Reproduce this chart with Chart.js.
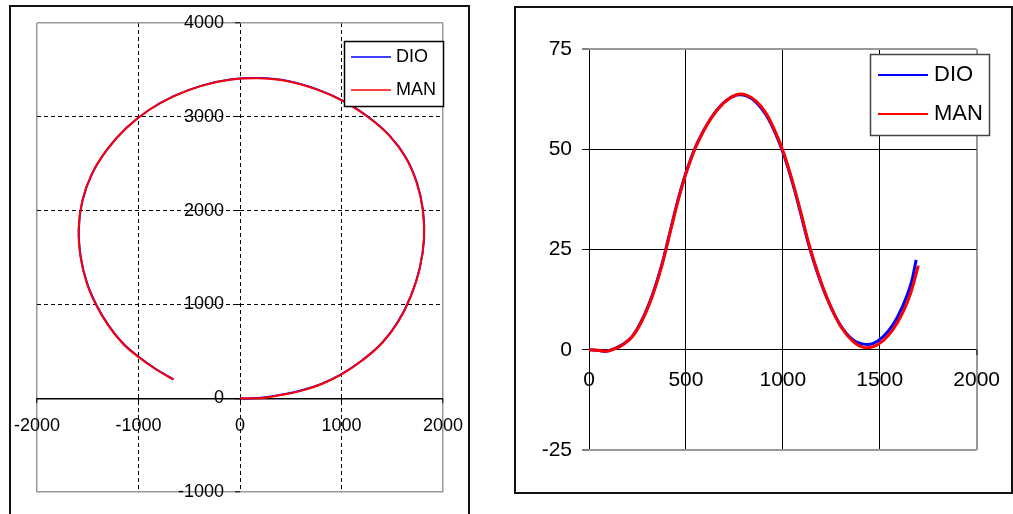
<!DOCTYPE html>
<html lang="en">
<head>
<meta charset="UTF-8">
<title>DIO / MAN</title>
<script src="https://cdn.jsdelivr.net/npm/chart.js"></script>
<style>
  body { margin: 0; background: #fff; width: 1013px; height: 514px; overflow: hidden; position: relative; }
  .frame { position: absolute; border: 2px solid #111; box-sizing: border-box; }
  canvas { position: absolute; top: 0; }
</style>
</head>
<body>
<div class="frame" style="left:9px;top:5px;width:461px;height:530px"></div>
<div class="frame" style="left:514px;top:6px;width:499px;height:488px"></div>
<canvas id="left" style="left:0" width="480" height="514"></canvas>
<canvas id="right" style="left:500px" width="513" height="514"></canvas>
<script>
// left chart: trajectory (x, y)
const leftManX = [0, 120, 230, 400, 600, 800, 1000, 1200, 1400, 1560, 1680, 1770, 1812, 1800, 1740, 1630, 1470, 1270, 1030, 760, 470, 180, -100, -380, -650, -900, -1120, -1310, -1460, -1555, -1590, -1570, -1510, -1420, -1300, -1160, -1000, -830, -657];
const leftManY = [0, 0, 5, 35, 80, 150, 255, 400, 590, 820, 1080, 1380, 1700, 2010, 2300, 2570, 2800, 2990, 3160, 3290, 3380, 3410, 3395, 3330, 3220, 3070, 2880, 2650, 2390, 2100, 1800, 1500, 1230, 1000, 780, 590, 440, 310, 200];
const leftDioX = [0, 120, 230, 400, 600, 800, 1000, 1200, 1400, 1560, 1680, 1770, 1814, 1802, 1742, 1632, 1472, 1272, 1032, 762, 472, 182, -98, -378, -648, -898, -1118, -1308, -1458, -1553, -1588, -1568, -1508, -1418, -1298, -1158, -998, -828, -655];
const leftDioY = [0, 0, 8, 38, 83, 153, 258, 403, 593, 823, 1083, 1383, 1703, 2013, 2303, 2573, 2803, 2993, 3163, 3293, 3383, 3413, 3398, 3333, 3223, 3073, 2883, 2653, 2393, 2103, 1803, 1503, 1233, 1003, 783, 593, 443, 313, 203];
const leftXTicks = ['-2000', '-1000', '0', '1000', '2000'];
const leftYTicks = ['-1000', '0', '1000', '2000', '3000', '4000'];

// right chart
const rightManX = [0, 55, 89, 131, 173, 224, 274, 324, 366, 387, 425, 467, 509, 560, 627, 694, 761, 812, 862, 913, 963, 1005, 1047, 1089, 1134, 1182, 1232, 1299, 1366, 1417, 1467, 1518, 1568, 1618, 1661, 1699];
const rightManY = [0, -0.2, -0.4, 0.2, 1.2, 3.3, 7.3, 13.0, 19.3, 23.0, 30.5, 38.5, 45.2, 51.5, 57.5, 61.5, 63.6, 63.5, 62.0, 59.0, 54.2, 49.0, 42.5, 35.0, 26.5, 19.0, 12.5, 5.8, 1.9, 0.6, 0.8, 2.3, 5.0, 9.2, 14.3, 21.0];
const rightDioX = [0, 55, 89, 131, 173, 224, 274, 324, 366, 387, 425, 467, 509, 560, 627, 694, 761, 812, 862, 913, 963, 1005, 1047, 1089, 1134, 1182, 1232, 1299, 1366, 1417, 1467, 1518, 1568, 1618, 1661, 1688];
const rightDioY = [0, -0.2, -0.4, 0.3, 1.3, 3.4, 7.5, 13.3, 19.6, 23.3, 30.8, 38.8, 45.4, 51.7, 57.6, 61.6, 63.5, 63.3, 61.7, 58.6, 53.8, 48.6, 42.1, 34.6, 26.1, 18.7, 12.4, 6.0, 2.3, 1.4, 1.6, 3.3, 6.2, 10.8, 16.4, 22.4];
const rightXTicks = ['0', '500', '1000', '1500', '2000'];
const rightYTicks = ['-25', '0', '25', '50', '75'];

const labels = ['DIO', 'MAN'];
const colors = ['#0000ff', '#ff0000'];

Chart.defaults.font.family = "'Liberation Sans', Arial, sans-serif";
Chart.defaults.color = '#000';

function pts(xs, ys) {
  return xs.map((x, i) => ({ x: x, y: ys[i] }));
}

// legend in a framed box inside the plot
const boxLegend = {
  id: 'boxLegend',
  afterDraw(chart, args, o) {
    const ctx = chart.ctx;
    ctx.save();
    ctx.fillStyle = '#fff';
    ctx.fillRect(o.x, o.y, o.w, o.h);
    ctx.strokeStyle = o.border;
    ctx.lineWidth = o.borderWidth;
    ctx.strokeRect(o.x + 0.5, o.y + 0.5, o.w, o.h);
    ctx.font = o.font;
    ctx.textBaseline = 'middle';
    chart.data.datasets.forEach((ds, i) => {
      const y = o.y + o.rowTop + i * o.rowGap;
      ctx.strokeStyle = ds.borderColor;
      ctx.lineWidth = o.lineWidth;
      ctx.beginPath();
      ctx.moveTo(o.x + o.lineX, y);
      ctx.lineTo(o.x + o.lineX + o.lineLen, y);
      ctx.stroke();
      ctx.fillStyle = '#000';
      ctx.fillText(ds.label, o.x + o.textX, y);
    });
    ctx.restore();
  }
};

// MAN drawn on top of DIO
function makeSets(dio, man, w) {
  return [
    { label: labels[0], data: dio, order: 1, borderColor: colors[0], borderWidth: w, showLine: true, pointRadius: 0, tension: 0.4, fill: false },
    { label: labels[1], data: man, order: 0, borderColor: colors[1], borderWidth: w, showLine: true, pointRadius: 0, tension: 0.4, fill: false }
  ];
}

new Chart(document.getElementById('left'), {
  type: 'scatter',
  data: { datasets: makeSets(pts(leftDioX, leftDioY), pts(leftManX, leftManY), 2) },
  plugins: [boxLegend],
  options: {
    responsive: false,
    animation: false,
    layout: { padding: { left: 37, right: 37, top: 23, bottom: 15 } },
    plugins: {
      legend: { display: false },
      tooltip: { enabled: false },
      boxLegend: { x: 344, y: 41, w: 99, h: 65, border: '#000', borderWidth: 1.5, font: "18px 'Liberation Sans', Arial, sans-serif", rowTop: 16, rowGap: 33, lineX: 7, lineLen: 40, lineWidth: 1.5, textX: 52 }
    },
    scales: {
      x: {
        type: 'linear', min: -2000, max: 2000, position: { y: 0 },
        ticks: { stepSize: 1000, autoSkip: false, maxRotation: 0, padding: 12, font: { size: 18 }, callback: (v, i) => leftXTicks[i] },
        grid: {
          color: c => (c.tick && Math.abs(c.tick.value) === 2000) ? '#999' : '#000',
          lineWidth: c => (c.tick && Math.abs(c.tick.value) === 2000) ? 1.5 : 1,
          tickLength: 5, tickColor: '#000', tickWidth: 1
        },
        border: { display: false, dash: c => (c.tick && Math.abs(c.tick.value) === 2000) ? [] : [4, 3] }
      },
      y: {
        // x range is symmetric, so the centre is x = 0
        type: 'linear', min: -1000, max: 4000, position: 'center',
        ticks: { stepSize: 1000, autoSkip: false, padding: 11, font: { size: 18 }, callback: (v, i) => leftYTicks[i] },
        grid: {
          color: c => (c.tick && (c.tick.value === 4000 || c.tick.value === -1000)) ? '#999' : '#000',
          lineWidth: c => (c.tick && c.tick.value !== 1000 && c.tick.value !== 2000 && c.tick.value !== 3000) ? 1.5 : 1,
          tickLength: 5, tickColor: '#000', tickWidth: 1
        },
        border: { display: false, dash: c => (c.tick && [4000, -1000, 0].includes(c.tick.value)) ? [] : [4, 3] }
      }
    }
  }
});

new Chart(document.getElementById('right'), {
  type: 'scatter',
  data: { datasets: makeSets(pts(rightDioX, rightDioY), pts(rightManX, rightManY), 3) },
  plugins: [boxLegend],
  options: {
    responsive: false,
    animation: false,
    layout: { padding: { left: 24, right: 27, top: 49, bottom: 64 } },
    plugins: {
      legend: { display: false },
      tooltip: { enabled: false },
      boxLegend: { x: 370, y: 54, w: 119, h: 81, border: '#444', borderWidth: 1.5, font: "22px 'Liberation Sans', Arial, sans-serif", rowTop: 21, rowGap: 39, lineX: 8, lineLen: 50, lineWidth: 2, textX: 64 }
    },
    scales: {
      x: {
        type: 'linear', min: 0, max: 2000, position: { y: 0 },
        ticks: { stepSize: 500, autoSkip: false, maxRotation: 0, padding: 13, font: { size: 21 }, callback: (v, i) => rightXTicks[i] },
        grid: {
          color: c => (c.tick && c.tick.value === 2000) ? '#999' : '#000',
          lineWidth: c => (c.tick && c.tick.value === 2000) ? 2 : 1,
          tickLength: 5, tickColor: '#000', tickWidth: 1
        },
        border: { display: false }
      },
      y: {
        type: 'linear', min: -25, max: 75, position: 'left',
        afterFit: s => { s.width = 65; },
        ticks: { stepSize: 25, autoSkip: false, padding: 10, font: { size: 21 }, callback: (v, i) => rightYTicks[i] },
        grid: {
          color: c => (c.tick && (c.tick.value === 75 || c.tick.value === -25)) ? '#999' : '#000',
          lineWidth: c => (c.tick && (c.tick.value === 75 || c.tick.value === -25)) ? 2 : 1,
          tickLength: 7, tickColor: '#000', tickWidth: 1
        },
        border: { display: false }
      }
    }
  }
});
</script>
</body>
</html>
